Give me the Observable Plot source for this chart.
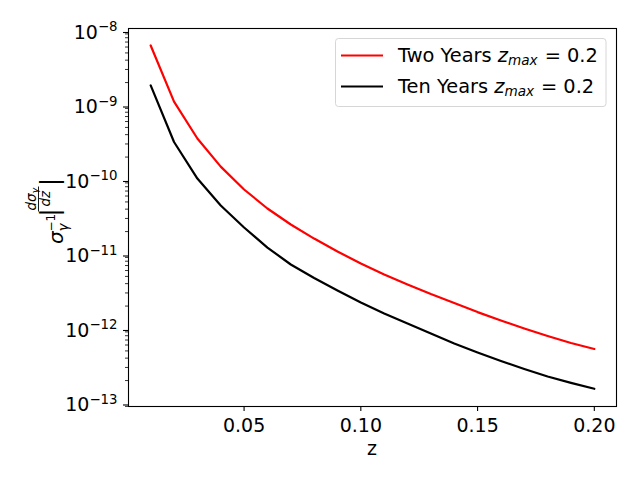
<!DOCTYPE html>
<html>
<head>
<meta charset="utf-8">
<script src="https://cdn.jsdelivr.net/npm/d3@7"></script>
<script src="https://cdn.jsdelivr.net/npm/@observablehq/plot@0.6"></script>
<style>
  body { margin: 0; background: #fff; }
  #chart { width: 640px; height: 480px; }
</style>
</head>
<body>
<div id="chart"></div>
<script>
// ---- data ----
const z = [0.01, 0.02, 0.03, 0.04, 0.05, 0.06, 0.07, 0.08, 0.09, 0.10,
           0.11, 0.12, 0.13, 0.14, 0.15, 0.16, 0.17, 0.18, 0.19, 0.20];
const twoYears = [6.29e-9, 1.11e-9, 3.55e-10, 1.49e-10, 7.34e-11, 4.08e-11, 2.49e-11, 1.61e-11, 1.08e-11, 7.46e-12,
                  5.31e-12, 3.90e-12, 2.90e-12, 2.20e-12, 1.66e-12, 1.28e-12, 1.00e-12, 7.93e-13, 6.39e-13, 5.31e-13];
const tenYears = [1.83e-9, 3.19e-10, 1.03e-10, 4.48e-11, 2.27e-11, 1.22e-11, 7.23e-12, 4.76e-12, 3.24e-12, 2.23e-12,
                  1.59e-12, 1.17e-12, 8.57e-13, 6.29e-13, 4.76e-13, 3.66e-13, 2.86e-13, 2.27e-13, 1.86e-13, 1.55e-13];
const seriesNames = ["Two Years", "Ten Years"];
const seriesColors = ["#ff0000", "#000000"];
const xTicks = [0.05, 0.10, 0.15, 0.20];
const yTicks = [1e-13, 1e-12, 1e-11, 1e-10, 1e-9, 1e-8];
const legendLabels = ["Two Years ", "Ten Years "];

// ---- derived tables ----
const rows = [];
z.forEach((v, i) => {
  rows.push({z: v, val: twoYears[i], series: seriesNames[0]});
  rows.push({z: v, val: tenYears[i], series: seriesNames[1]});
});
const yDomain = [8.97e-14, 1.064e-8];
const minorTicks = [];
for (let e = -14; e <= -8; e++) {
  for (let m = 2; m <= 9; m++) {
    const v = m * Math.pow(10, e);
    if (v >= yDomain[0] && v <= yDomain[1]) minorTicks.push(v);
  }
}
const supMap = {"-": "⁻", "0": "⁰", "1": "¹", "2": "²", "3": "³", "4": "⁴", "5": "⁵", "6": "⁶", "7": "⁷", "8": "⁸", "9": "⁹"};
const unSup = {"⁻": "−", "⁰": "0", "¹": "1", "²": "2", "³": "3", "⁴": "4", "⁵": "5", "⁶": "6", "⁷": "7", "⁸": "8", "⁹": "9"};
const fmtPow = d => "10" + String(Math.round(Math.log10(d))).split("").map(c => supMap[c]).join("");

const FONT = "DejaVu Sans";

const plot = Plot.plot({
  width: 640,
  height: 480,
  marginLeft: 128,
  marginRight: 24,
  marginTop: 28,
  marginBottom: 74,
  style: {fontFamily: FONT, fontSize: "19px", color: "#000", background: "#fff", overflow: "visible"},
  x: {domain: [0.0005, 0.2095]},
  y: {type: "log", domain: yDomain},
  color: {domain: seriesNames, range: seriesColors},
  marks: [
    Plot.axisX({ticks: xTicks, tickFormat: d3.format(".2f"), tickSize: 5, tickPadding: 7, label: null, strokeWidth: 1.1}),
    Plot.axisY({ticks: minorTicks, tickFormat: () => "", tickSize: 3, label: null, strokeWidth: 0.8}),
    Plot.axisY({ticks: yTicks, tickFormat: fmtPow, tickSize: 5, tickPadding: 6, dy: 2, label: null, strokeWidth: 1.1}),
    Plot.line(rows, {x: "z", y: "val", z: "series", stroke: "series", strokeWidth: 2.2}),
    Plot.frame({stroke: "#000", strokeWidth: 1.1})
  ]
});

document.getElementById("chart").appendChild(plot);
const svg = d3.select(plot);

// rich superscript tick labels
svg.selectAll('g[aria-label="y-axis tick label"] text').each(function () {
  const t = this.textContent;
  if (!t.startsWith("10")) return;
  const exp = t.slice(2).split("").map(c => unSup[c] || c).join("");
  const sel = d3.select(this);
  sel.text(null);
  sel.append("tspan").text("10");
  sel.append("tspan").attr("font-size", "13.3px").attr("dy", "-7.5").text(exp);
});

// x label
svg.append("text")
  .attr("x", 372).attr("y", 455)
  .attr("text-anchor", "middle")
  .attr("font-family", FONT).attr("font-size", "19px")
  .text("z");

// y label: σγ^{-1} |dσγ/dz|
const yl = svg.append("g")
  .attr("transform", "translate(63,244) rotate(-90)")
  .attr("text-anchor", "start")
  .attr("font-family", FONT).attr("fill", "#000");
yl.append("text").attr("x", 0).attr("y", 0).attr("font-size", "20px").attr("font-style", "italic").text("σ");
yl.append("text").attr("x", 12.5).attr("y", 4.5).attr("font-size", "13.5px").attr("font-style", "italic").text("γ");
yl.append("text").attr("x", 12.5).attr("y", -8.5).attr("font-size", "12px").text("−1");
yl.append("text").attr("x", 27.5).attr("y", -5).attr("font-size", "24px").text("|");
yl.append("text").attr("x", 33.5).attr("y", -27.5).attr("font-size", "13.5px").attr("font-style", "italic").text("dσ");
yl.append("text").attr("x", 50.5).attr("y", -25.5).attr("font-size", "9.5px").attr("font-style", "italic").text("γ");
yl.append("line").attr("x1", 32.5).attr("x2", 57.5).attr("y1", -24.5).attr("y2", -24.5).attr("stroke", "#000").attr("stroke-width", 0.9);
yl.append("text").attr("x", 37.5).attr("y", -13.5).attr("font-size", "13.5px").attr("font-style", "italic").text("dz");
yl.append("text").attr("x", 58).attr("y", -5).attr("font-size", "24px").text("|");

// legend
const lg = svg.append("g").attr("font-family", FONT).attr("text-anchor", "start");
lg.append("rect")
  .attr("x", 335.5).attr("y", 38.5).attr("width", 270.5).attr("height", 68)
  .attr("rx", 3).attr("fill", "#fff").attr("fill-opacity", 0.8)
  .attr("stroke", "#d6d6d6").attr("stroke-width", 1);
seriesNames.forEach((name, i) => {
  const cy = 55.5 + i * 31;
  lg.append("line").attr("x1", 341).attr("x2", 383).attr("y1", cy).attr("y2", cy)
    .attr("stroke", seriesColors[i]).attr("stroke-width", 2.2);
  const t = lg.append("text").attr("x", 398).attr("y", 61.7 + i * 31).attr("font-size", "19.4px").attr("fill", "#000");
  t.append("tspan").text(legendLabels[i]);
  t.append("tspan").attr("font-style", "italic").text("z");
  t.append("tspan").attr("font-style", "italic").attr("font-size", "13.6px").attr("dy", "3").text("max");
  t.append("tspan").attr("dy", "-3").attr("dx", "7").text("=");
  t.append("tspan").attr("dx", "6").text("0.2");
});
</script>
</body>
</html>
